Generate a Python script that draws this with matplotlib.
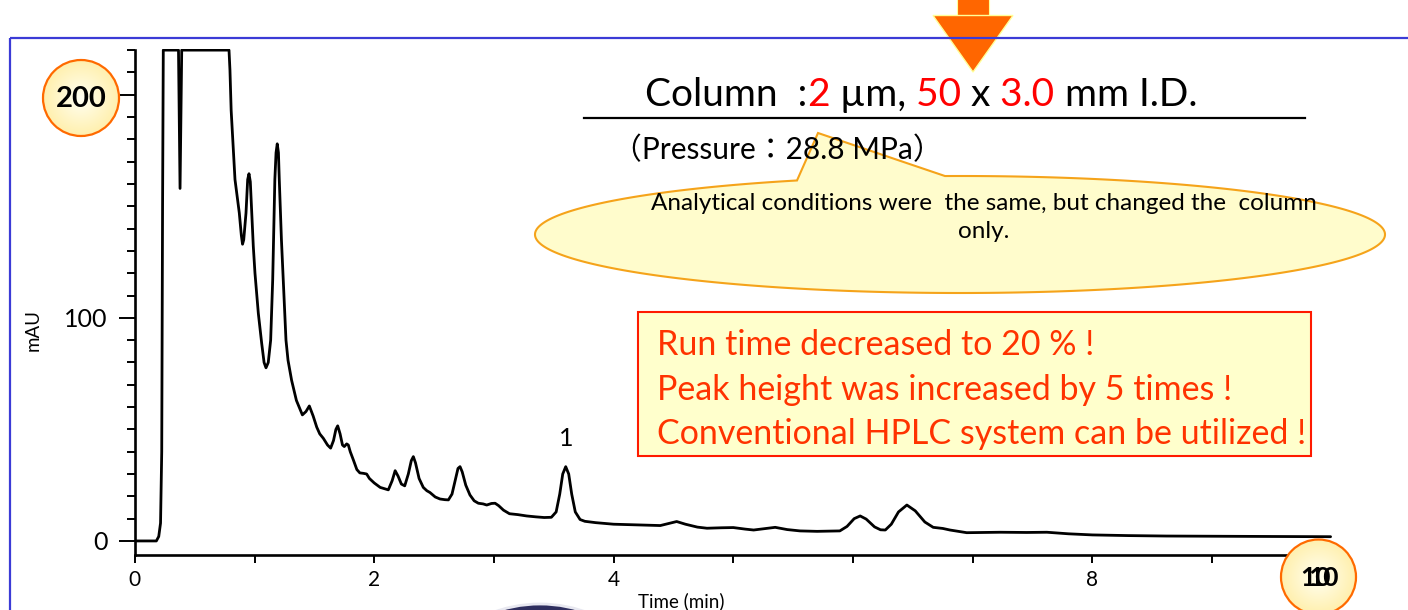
import numpy as np
import matplotlib
matplotlib.use("Agg")
import matplotlib.pyplot as plt
from matplotlib.patches import Circle, Rectangle, Polygon
from matplotlib.ticker import MultipleLocator, FixedLocator

plt.rcParams['font.family'] = ['Lato', 'Noto Sans CJK JP', 'DejaVu Sans']

# ---------------- data ----------------
time_min = [0.00, 0.18, 0.20, 0.215, 0.225, 0.232, 0.238, 0.365, 0.378, 0.392,
            0.787, 0.795, 0.805, 0.837, 0.873, 0.89, 0.90, 0.91, 0.929, 0.943,
            0.954, 0.965, 0.977, 0.99, 1.004, 1.032, 1.06, 1.08, 1.096, 1.115,
            1.135, 1.152, 1.17, 1.18, 1.19, 1.20, 1.207, 1.225, 1.24, 1.263,
            1.28, 1.31, 1.35, 1.40, 1.43,
            1.458, 1.49, 1.52, 1.545, 1.575, 1.61, 1.636, 1.66, 1.68, 1.695,
            1.715, 1.735, 1.75, 1.77, 1.784, 1.80, 1.826, 1.855, 1.88, 1.91,
            1.937, 1.96, 2.00, 2.05, 2.10, 2.118, 2.15, 2.175, 2.20, 2.227,
            2.255, 2.285, 2.31, 2.327, 2.345, 2.375, 2.41, 2.44, 2.466, 2.51,
            2.55, 2.59, 2.62, 2.65, 2.68, 2.70, 2.717, 2.735, 2.765, 2.80,
            2.835, 2.87, 2.91, 2.94, 2.98, 3.01, 3.04, 3.08, 3.13, 3.20,
            3.274, 3.35, 3.42, 3.48, 3.52, 3.55, 3.575, 3.60, 3.625, 3.65,
            3.68, 3.72, 3.76, 3.85, 4.00, 4.20, 4.39, 4.46, 4.527, 4.60,
            4.70, 4.78, 4.90, 5.00, 5.10, 5.17, 5.26, 5.35, 5.45, 5.557,
            5.70, 5.89, 5.95, 6.01, 6.06, 6.11, 6.18, 6.23, 6.27, 6.32,
            6.38, 6.45, 6.52, 6.60, 6.67, 6.75, 6.81, 6.95, 7.23, 7.45,
            7.62, 7.80, 8.00, 8.30, 8.62, 9.00, 9.50, 9.99]
signal_mau = [0.0, 0.0, 2.0, 8.0, 40.0, 150.0, 220.0, 220.0, 158.0, 220.0,
              220.0, 211.0, 193.0, 162.0, 147.0, 137.0, 133.0, 135.0, 147.0, 162.0,
              164.6, 161.0, 147.0, 132.0, 120.0, 102.0, 88.6, 80.0, 77.6, 80.0,
              90.0, 117.0, 162.0, 174.0, 178.0, 174.0, 162.0, 135.0, 117.0, 90.0,
              81.0, 72.0, 63.0, 56.5, 58.0,
              60.5, 56.0, 51.0, 48.0, 46.0, 43.0, 41.6, 45.0, 50.0, 51.6,
              48.0, 43.0, 42.3, 43.5, 43.0, 40.0, 36.3, 32.0, 30.5, 30.3,
              30.0, 28.0, 26.0, 24.0, 23.2, 22.9, 27.0, 31.5, 29.0, 25.5,
              24.7, 30.0, 36.0, 37.8, 35.0, 28.0, 24.0, 22.5, 21.7, 19.7,
              18.8, 18.5, 18.4, 21.0, 28.0, 32.5, 33.3, 31.0, 25.0, 20.6,
              18.0, 16.9, 16.6, 16.1, 16.8, 16.9, 15.8, 13.8, 12.2, 11.8,
              11.2, 10.8, 10.5, 10.6, 13.0, 21.0, 30.0, 33.3, 30.0, 21.0,
              13.0, 9.6, 8.8, 8.2, 7.5, 7.2, 6.9, 7.8, 8.7, 7.5,
              6.2, 5.7, 5.9, 6.0, 5.3, 4.9, 5.5, 6.1, 5.1, 4.5,
              4.3, 4.5, 6.5, 10.0, 11.2, 9.8, 6.3, 5.0, 4.9, 7.5,
              13.0, 16.1, 13.5, 8.5, 6.1, 5.6, 4.9, 3.7, 3.9, 3.8,
              3.9, 3.2, 2.7, 2.4, 2.2, 2.1, 2.0, 1.9]

x_major_ticks = [0, 2, 4, 6, 8, 10]
x_tick_labels = ["0", "2", "4", "", "8", ""]
y_major_ticks = [0, 100, 200]
y_tick_labels = ["0", "100", ""]
peak_label = "1"
peak_label_pos = (3.6, 46)

W, H = 1408, 610
fig = plt.figure(figsize=(W / 100, H / 100), dpi=100)
fig.patch.set_facecolor("white")

# ---------------- main chromatogram axes ----------------
ax_left, ax_right = 134.8, 1331.8
ax_bottom_px, ax_top_px = 555.0, 49.0
ax = fig.add_axes([ax_left / W, (H - ax_bottom_px) / H,
                   (ax_right - ax_left) / W, (ax_bottom_px - ax_top_px) / H])
ax.set_facecolor("none")
ax.plot(time_min, signal_mau, color="black", lw=2.0, solid_joinstyle="round",
        solid_capstyle="round")
ax.set_xlim(0, 10)
ax.set_ylim(-6.3, 220.5)
for s in ["top", "right"]:
    ax.spines[s].set_visible(False)
for s in ["left", "bottom"]:
    ax.spines[s].set_linewidth(1.9)
ax.spines["left"].set_bounds(-6.3, 220)
ax.xaxis.set_major_locator(FixedLocator(x_major_ticks))
ax.set_xticklabels(x_tick_labels)
ax.xaxis.set_minor_locator(MultipleLocator(1))
ax.yaxis.set_major_locator(FixedLocator(y_major_ticks))
ax.set_yticklabels(y_tick_labels)
ax.yaxis.set_minor_locator(MultipleLocator(10))
ax.tick_params(axis="y", which="major", length=11.5, width=1.4, labelsize=18, pad=8)
ax.tick_params(axis="y", which="minor", length=5.8, width=1.4)
ax.tick_params(axis="x", which="both", length=5.5, width=1.4, labelsize=15, pad=5)
ax.text(peak_label_pos[0], peak_label_pos[1], peak_label, ha="center", va="center",
        fontsize=18, color="black")

# ---------------- overlay (figure pixel coordinates) ----------------
ov = fig.add_axes([0, 0, 1, 1], zorder=10)
ov.set_facecolor("none")
ov.axis("off")

# blue frame
ov.plot([10, W], [38, 38], color="#3b3bd6", lw=1.6, solid_capstyle="butt")
ov.plot([10, 10], [38, H], color="#3b3bd6", lw=1.6, solid_capstyle="butt")

# orange arrow at top
ov.add_patch(Rectangle((957, -2), 32, 18, facecolor="#ff6600", edgecolor="#ffff99", lw=0.8))
ov.add_patch(Polygon([(933, 15.5), (1013, 15.5), (973, 72)], closed=True,
                     facecolor="#ff6600", edgecolor="#ffff99", lw=1.0))


def grad_circle(cx, cy, r, edge="#ff6a00"):
    n = 200
    yy, xx = np.mgrid[-1:1:n * 1j, -1:1:n * 1j]
    d = np.clip(np.sqrt(xx ** 2 + yy ** 2), 0, 1)
    c0 = np.array([1.0, 1.0, 0.95])
    c1 = np.array([1.0, 0.94, 0.68])
    img = c0[None, None, :] * (1 - d[..., None]) + c1[None, None, :] * d[..., None]
    circ = Circle((cx, cy), r, facecolor="none", edgecolor=edge, lw=1.6, zorder=3)
    im = ov.imshow(img, extent=(cx - r, cx + r, cy + r, cy - r), aspect="auto",
                   zorder=2, interpolation="bilinear")
    ov.add_patch(circ)
    im.set_clip_path(circ)


grad_circle(81, 98, 38)
ov.text(81, 99, "200", ha="center", va="center", fontsize=21, fontweight="bold",
        color="black", zorder=4)
grad_circle(1318.5, 577, 37.5)
ov.text(1316, 578, "10", ha="center", va="center", fontsize=19, fontweight="bold",
        color="black", zorder=4)
ov.text(1324, 578, "10", ha="center", va="center", fontsize=19, fontweight="bold",
        color="black", zorder=4)

# dark circle at bottom
ov.add_patch(Circle((540, 740), 136, facecolor="#2e2e5e", edgecolor="#e8e8f0", lw=2.0))

# column title (multi-coloured)
fs_title = 28
pieces = [("Column  :", "black"), ("2", "red"), (" µm,", "black"), (" 50", "red"),
          (" x", "black"), (" 3.0", "red"), (" mm I.D.", "black")]
t = ov.text(645, 106, pieces[0][0], color=pieces[0][1], fontsize=fs_title,
            ha="left", va="baseline")
for txt, col in pieces[1:]:
    t = ov.annotate(txt, xy=(1, 0), xycoords=t, va="bottom", ha="left",
                    color=col, fontsize=fs_title)
ov.plot([584, 1305], [118, 118], color="black", lw=1.6)
ov.text(612, 150, "（Pressure：28.8 MPa）", ha="left", va="center", fontsize=21.5,
        color="black")

# callout ellipse with pointer
cx, cy, a, b = 960, 234.5, 425, 58.5
theta = np.linspace(0, 2 * np.pi, 721)
ex = cx + a * np.cos(theta)
ey = cy - b * np.sin(theta)
x_right_base, x_left_base = 945, 797
th1 = np.arccos((x_right_base - cx) / a)
th2 = np.arccos((x_left_base - cx) / a)
pts = []
inserted = False
for th, px, py in zip(theta, ex, ey):
    if th1 < th < th2:
        if not inserted:
            pts.append((x_right_base, cy - b * np.sin(th1)))
            pts.append((818, 133))
            pts.append((x_left_base, cy - b * np.sin(th2)))
            inserted = True
        continue
    pts.append((px, py))
ov.add_patch(Polygon(pts, closed=True, facecolor="#fffccc", edgecolor="#f5a31a", lw=1.5))
ov.text(984, 203, "Analytical conditions were  the same, but changed the  column",
        ha="center", va="center", fontsize=17.5, color="black")
ov.text(984, 231, "only.", ha="center", va="center", fontsize=17.5, color="black")

# red box
ov.add_patch(Rectangle((638, 312), 673, 144, facecolor="#ffffcc", edgecolor="#ff1a00", lw=1.5))
red_lines = ["Run time decreased to 20 % !", "Peak height was increased by 5 times !",
             "Conventional HPLC system can be utilized !"]
for i, line in enumerate(red_lines):
    ov.text(657, 345 + 44.5 * i, line, ha="left", va="center", fontsize=24.5,
            color="#ff3300")

# axis labels
ov.text(33, 330, "mAU", rotation=90, ha="center", va="center", fontsize=13.5, color="black")
ov.text(681, 601, "Time (min)", ha="center", va="center", fontsize=13.5, color="black")

ov.set_xlim(0, W)
ov.set_ylim(H, 0)

fig.savefig("out.png", dpi=100, facecolor="white")
